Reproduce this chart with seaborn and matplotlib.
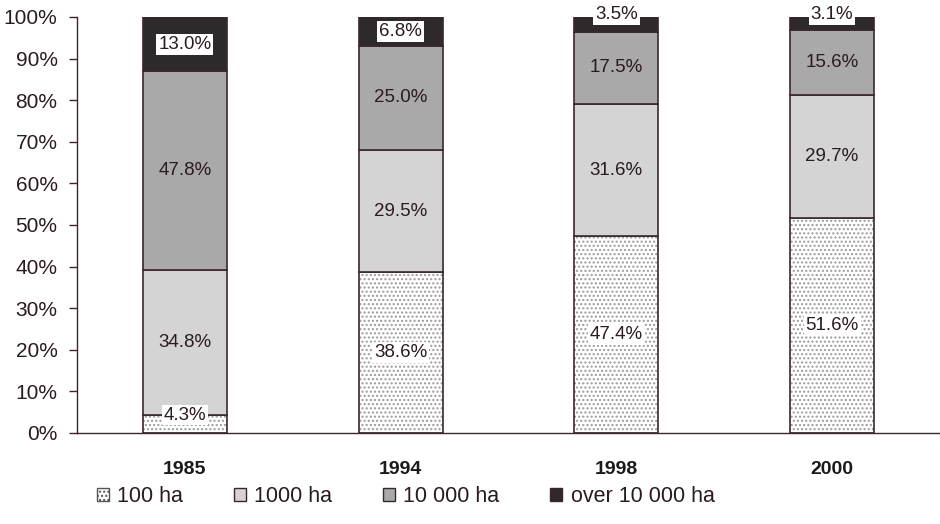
import matplotlib
matplotlib.use("Agg")
import matplotlib.pyplot as plt
from matplotlib.patches import Patch
import seaborn as sns
import pandas as pd
import numpy as np

years = ["1985", "1994", "1998", "2000"]
series_names = ["100 ha", "1000 ha", "10 000 ha", "over 10 000 ha"]
s100 = [4.3, 38.6, 47.4, 51.6]
s1000 = [34.8, 29.5, 31.6, 29.7]
s10000 = [47.8, 25.0, 17.5, 15.6]
sover = [13.0, 6.8, 3.5, 3.1]
yticks = [0, 10, 20, 30, 40, 50, 60, 70, 80, 90, 100]

sns.set_style("white")
plt.rcParams['font.family'] = ['Liberation Sans', 'DejaVu Sans']
plt.rcParams['hatch.linewidth'] = 1.0

fig = plt.figure(figsize=(9.4, 5.24), dpi=100)
ax = fig.add_axes([77/940, 91/524, 1 - 77/940, (507 - 91)/524 + 0.0])

series = [s100, s1000, s10000, sover]
fills = ["white", "#d4d4d4", "#a9a9a9", "#2e2a2c"]
edge = "#3a2630"
width = 0.39

bottom = np.zeros(len(years))
for i, vals in enumerate(series):
    df = pd.DataFrame({"year": years, "val": vals})
    if i == 0:
        sns.barplot(data=df, x="year", y="val", ax=ax, color="white",
                    edgecolor="#9a9a9a", linewidth=0, hatch="....",
                    width=width, bottom=bottom, saturation=1)
        sns.barplot(data=df, x="year", y="val", ax=ax, color="white",
                    fill=False, edgecolor=edge, linewidth=1.2, width=width,
                    bottom=bottom, saturation=1)
    else:
        sns.barplot(data=df, x="year", y="val", ax=ax, color=fills[i],
                    edgecolor=edge, linewidth=1.2, width=width,
                    bottom=bottom, saturation=1)
    # labels
    for j, v in enumerate(vals):
        if v < 5 and i == len(series) - 1:
            yy = bottom[j] + v + 0.5 if v < 4 else bottom[j] + v / 2 - 0.5
        elif v < 5 and i == 0:
            yy = v
        else:
            yy = bottom[j] + v / 2
        boxed = (i == 0) or (i == len(series) - 1)
        kw = dict(ha="center", va="center", fontsize=13.5, color="#2a1a22")
        if boxed:
            kw["bbox"] = dict(boxstyle="square,pad=0.1", fc="white",
                              ec="none")
        ax.text(j, yy, f"{v:.1f}%", **kw)
    bottom = bottom + np.array(vals)

ax.set_ylim(0, 100)
ax.set_xlim(-0.5, 3.5)
ax.set_yticks(yticks)
ax.set_yticklabels([f"{t}%" for t in yticks], fontsize=15, color="#2a1a22")
ax.set_xticks([-0.5, 0.5, 1.5, 2.5, 3.5])
ax.set_xticklabels([])
ax.set_xticks(range(len(years)), minor=True)
ax.set_xticklabels(years, minor=True, fontsize=14, fontweight="bold",
                   color="#1a1a1a")
ax.tick_params(axis="x", which="minor", length=0, pad=20)
ax.tick_params(axis="x", which="major", length=6, direction="out",
               color=edge, width=1)
ax.tick_params(axis="y", length=6, direction="out", color=edge, width=1,
               left=True, pad=8)
ax.set_xlabel("")
ax.set_ylabel("")
for s in ["top", "right"]:
    ax.spines[s].set_visible(False)
for s in ["left", "bottom"]:
    ax.spines[s].set_color(edge)
    ax.spines[s].set_linewidth(1)

handles = [
    Patch(facecolor="white", edgecolor="#555", hatch="....", linewidth=1),
    Patch(facecolor=fills[1], edgecolor=edge, linewidth=1),
    Patch(facecolor=fills[2], edgecolor=edge, linewidth=1),
    Patch(facecolor=fills[3], edgecolor=edge, linewidth=1),
]
fig.legend(handles, series_names, loc="center left",
           bbox_to_anchor=(97/940, 1 - 497/524), ncol=4, frameon=False,
           fontsize=15.5, handlelength=0.55, handleheight=0.55,
           handletextpad=0.4, columnspacing=2.35, labelcolor="#2a1a22",
           borderaxespad=0, borderpad=0)

fig.savefig("out.png", dpi=100, facecolor="white")
